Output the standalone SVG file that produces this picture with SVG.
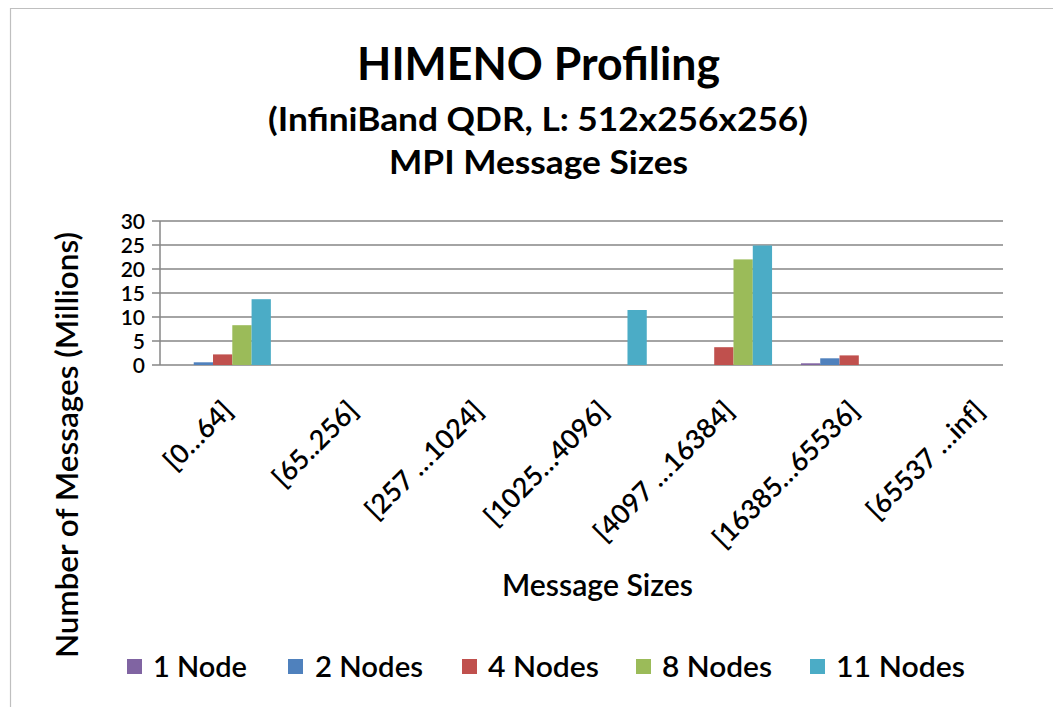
<svg xmlns="http://www.w3.org/2000/svg" width="1053" height="707" viewBox="0 0 1053 707">
  <style>
    text { font-family: Lato, "Open Sans", "Liberation Sans", sans-serif; fill: #000; font-weight: 600; }
    .title { font-size: 46px; font-weight: 700; }
    .sub { font-size: 32px; font-weight: 700; }
    .tick { font-size: 21px; }
    .cat { font-size: 27px; }
    .axt { font-size: 30px; }
    .leg { font-size: 28px; }
    .grid { stroke: #878787; stroke-width: 1.5; fill: none; }
    .s1 { fill: #8064A2; }
    .s2 { fill: #4F81BD; }
    .s4 { fill: #C0504D; }
    .s8 { fill: #9BBB59; }
    .s11 { fill: #4BACC6; }
  </style>

  <rect x="0" y="0" width="1053" height="707" fill="#fff"/>
  <!-- chart frame -->
  <path d="M10.5 707 V8.5 H1053" fill="none" stroke="#bfbfbf" stroke-width="1.2"/>

  <!-- titles -->
  <g id="title">
    <text class="title" x="538.5" y="80" text-anchor="middle" textLength="363" lengthAdjust="spacingAndGlyphs">HIMENO Profiling</text>
    <text class="sub" x="538" y="131" text-anchor="middle" textLength="540" lengthAdjust="spacingAndGlyphs">(InfiniBand QDR, L: 512x256x256)</text>
    <text class="sub" x="538.5" y="174" text-anchor="middle" textLength="299" lengthAdjust="spacingAndGlyphs">MPI Message Sizes</text>
  </g>

  <!-- value axis: gridlines, ticks, labels -->
  <g id="value-axis">
    <path class="grid" d="M152 221H1003M152 245H1003M152 269H1003M152 293H1003M152 317H1003M152 341H1003M152 365H1003"/>
    <path class="grid" d="M160 221V365"/>
    <g text-anchor="end">
      <text class="tick" x="145" y="228.5">30</text>
      <text class="tick" x="145" y="252.5">25</text>
      <text class="tick" x="145" y="276.5">20</text>
      <text class="tick" x="145" y="300.5">15</text>
      <text class="tick" x="145" y="324.5">10</text>
      <text class="tick" x="145" y="348.5">5</text>
      <text class="tick" x="145" y="372.5">0</text>
    </g>
    <text class="axt" transform="translate(78,445) rotate(-90)" text-anchor="middle" textLength="426" lengthAdjust="spacingAndGlyphs">Number of Messages (Millions)</text>
  </g>

  <!-- data bars -->
  <g id="bars">
    <rect class="s2" x="193.74" y="362.3" width="19.28" height="2.7"/>
    <rect class="s4" x="213.02" y="354.4" width="19.28" height="10.6"/>
    <rect class="s8" x="232.30" y="325.2" width="19.28" height="39.8"/>
    <rect class="s11" x="251.58" y="299.2" width="19.28" height="65.8"/>

    <rect class="s11" x="627.48" y="310" width="19.28" height="55"/>

    <rect class="s4" x="714.22" y="347.2" width="19.28" height="17.8"/>
    <rect class="s8" x="733.50" y="259.4" width="19.28" height="105.6"/>
    <rect class="s11" x="752.78" y="245.5" width="19.28" height="119.5"/>

    <rect class="s1" x="800.96" y="363.3" width="19.28" height="1.7"/>
    <rect class="s2" x="820.24" y="358.3" width="19.28" height="6.7"/>
    <rect class="s4" x="839.52" y="355.4" width="19.28" height="9.6"/>
  </g>

  <!-- category axis labels -->
  <g id="category-axis" text-anchor="end" dominant-baseline="central">
    <text class="cat" transform="translate(227,405) rotate(-45)">[0…64]</text>
    <text class="cat" transform="translate(352.3,405) rotate(-45)">[65..256]</text>
    <text class="cat" transform="translate(477.6,405) rotate(-45)">[257 …1024]</text>
    <text class="cat" transform="translate(602.9,405) rotate(-45)">[1025…4096]</text>
    <text class="cat" transform="translate(728.2,405) rotate(-45)">[4097 …16384]</text>
    <text class="cat" transform="translate(853.5,405) rotate(-45)">[16385…65536]</text>
    <text class="cat" transform="translate(978.8,405) rotate(-45)">[65537 …inf]</text>
  </g>
  <text class="axt" x="597.5" y="596" text-anchor="middle" textLength="191" lengthAdjust="spacingAndGlyphs">Message Sizes</text>

  <!-- legend -->
  <g id="legend">
    <rect class="s1" x="127" y="659" width="15" height="15"/>
    <text class="leg" x="153" y="677" textLength="94" lengthAdjust="spacingAndGlyphs">1 Node</text>
    <rect class="s2" x="288" y="659" width="15" height="15"/>
    <text class="leg" x="315" y="677" textLength="108" lengthAdjust="spacingAndGlyphs">2 Nodes</text>
    <rect class="s4" x="462" y="659" width="15" height="15"/>
    <text class="leg" x="488" y="677" textLength="111" lengthAdjust="spacingAndGlyphs">4 Nodes</text>
    <rect class="s8" x="636" y="659" width="15" height="15"/>
    <text class="leg" x="662" y="677" textLength="110" lengthAdjust="spacingAndGlyphs">8 Nodes</text>
    <rect class="s11" x="810" y="659" width="15" height="15"/>
    <text class="leg" x="836" y="677" textLength="129" lengthAdjust="spacingAndGlyphs">11 Nodes</text>
  </g>
</svg>
